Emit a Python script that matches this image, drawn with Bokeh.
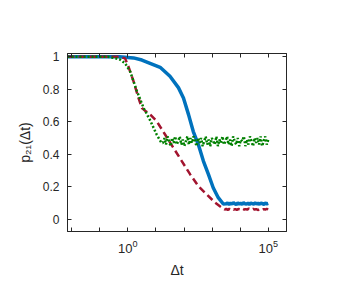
import numpy as np
from bokeh.plotting import figure
from bokeh.models import Range1d, FixedTicker, LogAxis, LinearAxis, LogTickFormatter
from bokeh.embed import file_html
from bokeh.resources import INLINE

# ---- data ----
blue_dt = [0.00708, 0.501, 1.585, 3.16, 6.17, 14.1, 31.6, 63.1, 95.5, 145, 214, 324, 490, 741, 1096, 1660, 2512]
blue_p = [1.0, 1.0, 0.993, 0.98, 0.96, 0.935, 0.88, 0.81, 0.746, 0.644, 0.54, 0.46, 0.358, 0.276, 0.194, 0.133, 0.094]
blue_plateau = [0.095, 0.100, 0.092, 0.099, 0.094, 0.102, 0.096, 0.091, 0.100, 0.095, 0.098, 0.093,
                0.101, 0.096, 0.094, 0.099, 0.092, 0.100, 0.097, 0.094, 0.101, 0.095, 0.098, 0.093,
                0.100, 0.096, 0.092, 0.099, 0.095, 0.098]

red_dt = [0.00708, 0.501, 0.794, 1.047, 1.585, 2.40, 3.16, 3.98, 6.17, 10.7, 21.4, 41.7, 83.2, 166, 324, 646, 1288, 2239]
red_p = [1.0, 1.0, 0.99, 0.94, 0.85, 0.746, 0.685, 0.67, 0.645, 0.603, 0.52, 0.44, 0.358, 0.276, 0.204, 0.153, 0.102, 0.071]
red_plateau = [0.060, 0.065, 0.058, 0.064, 0.061, 0.066, 0.059, 0.063, 0.057, 0.064, 0.062, 0.058,
               0.065, 0.060, 0.063, 0.059, 0.066, 0.061, 0.058, 0.064, 0.060, 0.063, 0.057, 0.062,
               0.065, 0.059, 0.063, 0.060, 0.064, 0.061]

green_dt = [0.00708, 0.1995, 0.501, 0.794, 1.202, 2.089, 3.63, 6.17, 10.7, 15.8]
green_p = [1.0, 1.0, 0.985, 0.96, 0.91, 0.79, 0.685, 0.61, 0.52, 0.47]
green_plateau = [0.47, 0.50, 0.46, 0.51, 0.48, 0.45, 0.50, 0.47, 0.51, 0.46, 0.48, 0.51, 0.46, 0.49,
                 0.45, 0.48, 0.51, 0.46, 0.50, 0.47, 0.51, 0.48, 0.45, 0.50, 0.47, 0.50, 0.45, 0.48,
                 0.51, 0.46, 0.49, 0.45, 0.50, 0.48, 0.46, 0.51, 0.45, 0.49, 0.47, 0.51, 0.46, 0.48,
                 0.51, 0.46, 0.49, 0.45, 0.51, 0.48, 0.46, 0.50, 0.45, 0.49, 0.48, 0.51, 0.45, 0.49,
                 0.46, 0.51, 0.48, 0.45, 0.50, 0.47, 0.50, 0.46, 0.51, 0.45, 0.48, 0.51, 0.46, 0.49]

x_major = [1, 1e5]
x_minor = [1e-2, 1e-1, 1e1, 1e2, 1e3, 1e4]
y_ticks = [0, 0.2, 0.4, 0.6, 0.8, 1]
y_labels = {0: "0", 0.2: "0.2", 0.4: "0.4", 0.6: "0.6", 0.8: "0.8", 1: "1"}

# assemble full series
blue_x = list(blue_dt) + list(np.logspace(3.5, 5, len(blue_plateau)))
blue_y = list(blue_p) + blue_plateau
red_x = list(red_dt) + list(np.logspace(3.45, 5, len(red_plateau)))
red_y = list(red_p) + red_plateau
green_x = list(green_dt) + list(np.logspace(1.25, 5, len(green_plateau)))
green_y = list(green_p) + green_plateau

FONT = "Liberation Sans"
DARK = "#262626"

p = figure(x_axis_type="log", output_backend="svg", toolbar_location=None,
           frame_width=219, frame_height=178,
           min_border_left=67, min_border_right=40, min_border_top=53, min_border_bottom=55,
           x_range=Range1d(10 ** -2.15, 10 ** 5.65), y_range=Range1d(-0.075, 1.02),
           background_fill_color="white", border_fill_color="white")
p.grid.visible = False
p.outline_line_color = DARK
p.outline_line_width = 1

p.line(blue_x, blue_y, line_color="#0072BD", line_width=3.5)
p.line(red_x, red_y, line_color="#A2142F", line_width=2.5, line_dash="7 4")
p.line(green_x, green_y, line_color="#008000", line_width=2.5, line_dash="2 2")

xa = p.xaxis[0]
xa.ticker = FixedTicker(ticks=x_major, minor_ticks=x_minor)
xa.formatter = LogTickFormatter()
xa.axis_label = "Δt"

ya = p.yaxis[0]
ya.ticker = FixedTicker(ticks=y_ticks)
ya.major_label_overrides = y_labels
ya.axis_label = "p₂₁(Δt)"

for ax in (xa, ya):
    ax.major_tick_in = 4
    ax.major_tick_out = 0
    ax.minor_tick_in = 4
    ax.minor_tick_out = 0
    ax.axis_line_color = DARK
    ax.major_tick_line_color = DARK
    ax.minor_tick_line_color = DARK
    ax.major_label_text_font = FONT
    ax.major_label_text_font_size = "12px"
    ax.major_label_text_color = DARK
    ax.axis_label_text_font = FONT
    ax.axis_label_text_font_size = "14px"
    ax.axis_label_text_font_style = "normal"
    ax.axis_label_text_color = DARK
xa.major_label_text_font_size = "13px"
ya.major_label_standoff = 8
ya.axis_label_standoff = 7
xa.major_label_standoff = 8
xa.axis_label_standoff = 6

top = LogAxis(ticker=FixedTicker(ticks=x_major, minor_ticks=x_minor))
right = LinearAxis(ticker=FixedTicker(ticks=y_ticks))
for ax in (top, right):
    ax.major_tick_in = 4
    ax.major_tick_out = 0
    ax.minor_tick_in = 4
    ax.minor_tick_out = 0
    ax.axis_line_color = DARK
    ax.major_tick_line_color = DARK
    ax.minor_tick_line_color = DARK
    ax.major_label_text_alpha = 0
    ax.major_label_text_font_size = "8px"
    ax.major_label_standoff = 0
p.add_layout(top, "above")
p.add_layout(right, "right")

open("out.html", "w").write(file_html(p, INLINE))
